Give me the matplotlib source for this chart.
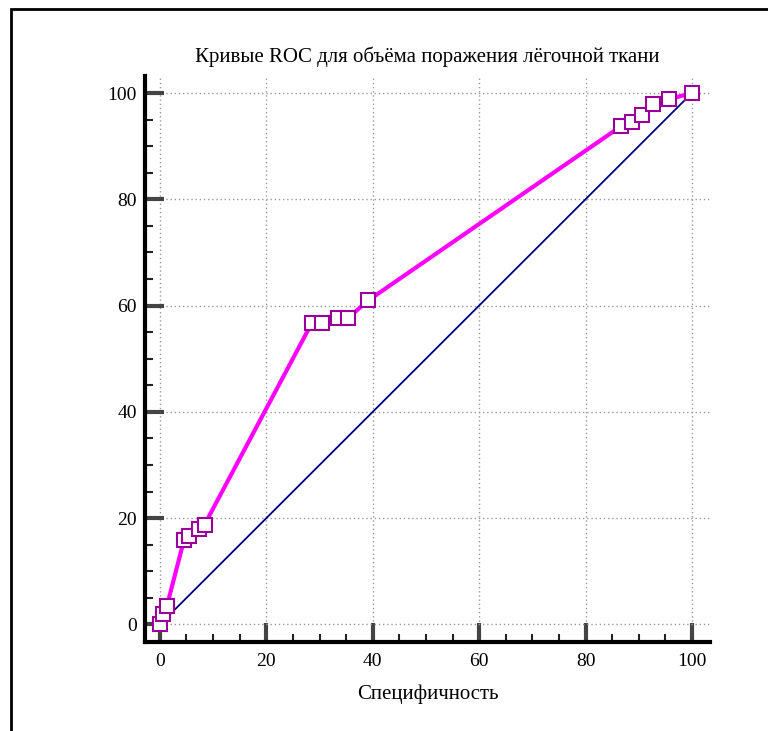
import matplotlib
matplotlib.use("Agg")
import matplotlib.pyplot as plt
from matplotlib.patches import Rectangle
from matplotlib.ticker import MultipleLocator

title = "Кривые ROC для объёма поражения лёгочной ткани"
xlabel = "Специфичность"

roc_x = [0, 0.6, 1.3, 4.5, 5.5, 7.4, 8.4, 28.6, 30.5, 33.5, 35.4, 39.2,
         86.6, 88.7, 90.7, 92.6, 95.6, 100]
roc_y = [0, 2, 3.4, 15.8, 16.7, 17.9, 18.8, 56.8, 56.8, 57.7, 57.7, 61,
         93.7, 94.6, 95.8, 97.9, 98.8, 100]
diag_x = [0, 100]
diag_y = [0, 100]

plt.rcParams['font.family'] = ['Liberation Serif', 'DejaVu Serif']

fig = plt.figure(figsize=(7.68, 7.31), dpi=100)
ax = fig.add_axes([145/768, 1-642/731, (710-145)/768, (642-76)/731])

# outer frame
fig.patches.append(Rectangle((11/768, -0.1), 1.2, 1-9/731+0.1, transform=fig.transFigure,
                             fill=False, edgecolor='black', linewidth=2))

ax.plot(diag_x, diag_y, color='#000080', linewidth=1.3, zorder=2)
ax.plot(roc_x, roc_y, color='#FF00FF', linewidth=3, zorder=3)
ax.plot(roc_x, roc_y, linestyle='none', marker='s', markersize=10.5,
        markerfacecolor='white', markeredgecolor='#990099', markeredgewidth=1.5, zorder=4)

ax.set_xlim(-2.8, 103.4)
ax.set_ylim(-3.3, 103.2)

ax.spines['top'].set_visible(False)
ax.spines['right'].set_visible(False)
ax.spines['left'].set_linewidth(3)
ax.spines['bottom'].set_linewidth(3)

ax.xaxis.set_major_locator(MultipleLocator(20))
ax.yaxis.set_major_locator(MultipleLocator(20))
ax.xaxis.set_minor_locator(MultipleLocator(5))
ax.yaxis.set_minor_locator(MultipleLocator(5))
ax.tick_params(which='major', direction='in', length=14, width=3, color='#444444',
               labelsize=14, pad=6)
ax.tick_params(axis='x', which='major', pad=8)
ax.tick_params(which='minor', direction='in', length=6, width=1.5, color='#222222')
ax.grid(True, which='major', linestyle=(0, (1, 2)), color='#999999', linewidth=1)
ax.set_axisbelow(True)

ax.set_title(title, fontsize=15, pad=10)
ax.set_xlabel(xlabel, fontsize=15, labelpad=10)

fig.savefig("out.png", dpi=100)
